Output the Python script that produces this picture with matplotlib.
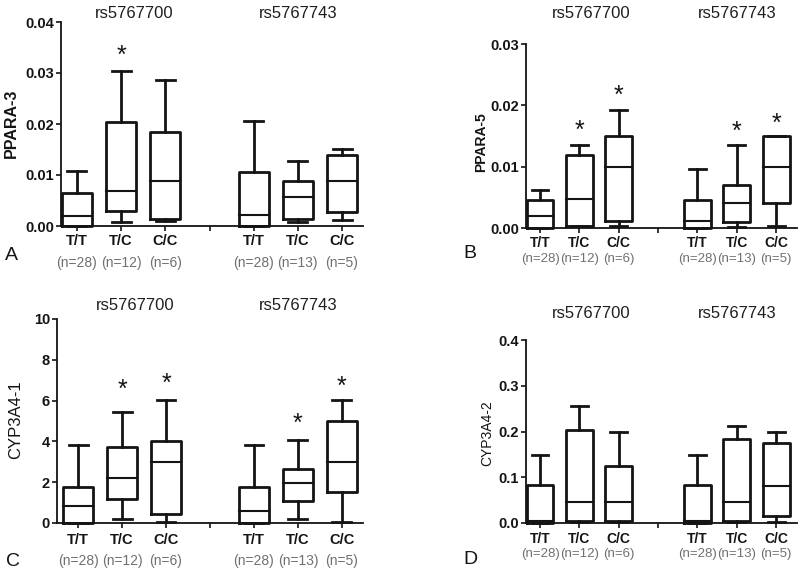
"""Box plots of expression by rs5767700 / rs5767743 genotype (panels A-D)."""

import matplotlib

matplotlib.use("Agg")
import matplotlib.pyplot as plt
import matplotlib.transforms as mtransforms
from matplotlib.ticker import FormatStrFormatter

plt.rcParams["font.family"] = ["Liberation Sans", "DejaVu Sans"]

GENOTYPES = ["T/T", "T/C", "C/C", "T/T", "T/C", "C/C"]
COUNTS = ["(n=28)", "(n=12)", "(n=6)", "(n=28)", "(n=13)", "(n=5)"]
SNPS = ["rs5767700", "rs5767743"]

# panel A: PPARA-3
A_low = [0.0, 0.00085, 0.0010, 0.0, 0.0008, 0.0011]
A_q1 = [0.0, 0.0029, 0.0013, 0.0, 0.0014, 0.0027]
A_med = [0.0019, 0.0069, 0.0088, 0.0021, 0.0057, 0.0088]
A_q3 = [0.0065, 0.0203, 0.0184, 0.0105, 0.0088, 0.0139]
A_high = [0.0107, 0.0304, 0.0286, 0.0206, 0.0127, 0.0151]
A_stars = [(2, 0.0341)]

# panel B: PPARA-5
B_low = [0.0, 0.0003, 0.0003, 0.0, 0.0002, 0.0003]
B_q1 = [0.0, 0.0004, 0.0011, 0.0, 0.0009, 0.0040]
B_med = [0.0019, 0.0047, 0.0100, 0.0011, 0.0041, 0.0100]
B_q3 = [0.0045, 0.0119, 0.0150, 0.0045, 0.0070, 0.0150]
B_high = [0.0062, 0.0135, 0.0193, 0.0097, 0.0135, 0.0150]
B_stars = [(2, 0.0165), (3, 0.0222), (6, 0.0163), (7, 0.0177)]

# panel C: CYP3A4-1
C_low = [0.0, 0.2, 0.03, 0.0, 0.2, 0.03]
C_q1 = [0.0, 1.2, 0.45, 0.0, 1.07, 1.5]
C_med = [0.85, 2.2, 3.0, 0.57, 1.97, 3.0]
C_q3 = [1.75, 3.72, 4.0, 1.75, 2.66, 5.0]
C_high = [3.8, 5.42, 6.02, 3.8, 4.07, 6.02]
C_stars = [(2, 6.72), (3, 7.02), (6, 5.08), (7, 6.89)]

# panel D: CYP3A4-2
D_low = [0.0, 0.003, 0.003, 0.0, 0.003, 0.003]
D_q1 = [0.0, 0.005, 0.004, 0.0, 0.005, 0.016]
D_med = [0.004, 0.045, 0.045, 0.004, 0.045, 0.08]
D_q3 = [0.082, 0.203, 0.125, 0.082, 0.184, 0.175]
D_high = [0.149, 0.255, 0.2, 0.149, 0.213, 0.2]
D_stars = []

POSITIONS = [1, 2, 3, 5, 6, 7]
GAP_TICK = 4
INK = "#141414"

W, H = 800, 572


def px_rect(left, top, right, bottom):
    """Pixel box -> figure fraction rect."""
    return [left / W, (H - bottom) / H, (right - left) / W, (bottom - top) / H]


def draw_panel(fig, rect, xlim, stats, stars, yticks, fmt, ylabel, ylabel_xy,
               ylabel_size, ylabel_weight, title_y, letter, letter_xy,
               gen_pad, n_off, small=False):
    ax = fig.add_axes(rect)
    low, q1, med, q3, high = stats
    boxes = [
        {"whislo": lo, "q1": a, "med": m, "q3": b, "whishi": hi, "fliers": []}
        for lo, a, m, b, hi in zip(low, q1, med, q3, high)
    ]
    art = ax.bxp(
        boxes,
        positions=POSITIONS,
        widths=0.68,
        capwidths=0.43,
        showfliers=False,
        boxprops=dict(color=INK, linewidth=2.0),
        whiskerprops=dict(color=INK, linewidth=2.0),
        capprops=dict(color=INK, linewidth=2.0),
        medianprops=dict(color=INK, linewidth=1.5),
        manage_ticks=False,
    )
    for group in art.values():
        for line in group:
            line.set_clip_on(False)
            line.set_solid_capstyle("projecting")

    ax.set_xlim(*xlim)
    ax.set_ylim(yticks[0], yticks[-1])
    ax.set_yticks(yticks)
    ax.yaxis.set_major_formatter(FormatStrFormatter(fmt))

    ticks = POSITIONS[:3] + [GAP_TICK] + POSITIONS[3:]
    labels = GENOTYPES[:3] + [""] + GENOTYPES[3:]
    ax.set_xticks(ticks)
    fs = 10 if small else 10.5
    nfs = 9.5 if small else 10
    ax.set_xticklabels(labels, fontsize=fs, fontweight="bold")
    ax.tick_params(axis="x", length=3.5, width=1.2, pad=gen_pad, colors=INK)
    ax.tick_params(axis="y", length=3.5, width=1.2, pad=1.5, colors=INK,
                   labelsize=10.5)
    for lab in ax.get_yticklabels():
        lab.set_fontweight("bold")

    for side in ("top", "right"):
        ax.spines[side].set_visible(False)
    for side in ("left", "bottom"):
        ax.spines[side].set_linewidth(1.3)
        ax.spines[side].set_color(INK)

    for x, n in zip(POSITIONS, COUNTS):
        ax.annotate(n, xy=(x, 0), xycoords=("data", "axes fraction"),
                    xytext=(0, -n_off), textcoords="offset points",
                    ha="center", va="center", fontsize=nfs, color="#707070")

    for x, y in stars:
        ax.annotate("*", xy=(x, y), xytext=(0, -3), textcoords="offset points",
                    ha="center", va="center", fontsize=18, color=INK)

    tr = mtransforms.blended_transform_factory(ax.transData, fig.transFigure)
    for x, snp in zip([2.3, 6.0], SNPS):
        ax.text(x, 1 - title_y / H, snp, transform=tr, ha="center",
                va="center", fontsize=12, color="#1e1e1e")

    fig.text(ylabel_xy[0] / W, 1 - ylabel_xy[1] / H, ylabel, rotation=90,
             ha="center", va="center", fontsize=ylabel_size,
             fontweight=ylabel_weight, color=INK)
    fig.text(letter_xy[0] / W, 1 - letter_xy[1] / H, letter, ha="center",
             va="center", fontsize=14, color=INK)
    return ax


fig = plt.figure(figsize=(W / 100, H / 100), dpi=100)

draw_panel(fig, px_rect(61, 22, 363, 226), (0.638, 7.475),
           (A_low, A_q1, A_med, A_q3, A_high), A_stars,
           [0.0, 0.01, 0.02, 0.03, 0.04], "%.2f", "PPARA-3", (11, 123),
           11.5, "bold", 13, "A", (11, 255), 2.5, 26.5)
draw_panel(fig, px_rect(526, 44, 797, 228), (0.644, 7.53),
           (B_low, B_q1, B_med, B_q3, B_high), B_stars,
           [0.0, 0.01, 0.02, 0.03], "%.2f", "PPARA-5", (481, 142),
           10, "bold", 13, "B", (470, 253), 2.5, 22, small=True)
draw_panel(fig, px_rect(57, 319, 363, 523), (0.52, 7.48),
           (C_low, C_q1, C_med, C_q3, C_high), C_stars,
           [0, 2, 4, 6, 8, 10], "%d", "CYP3A4-1", (16, 420),
           12, "normal", 306, "C", (13, 561), 3.5, 27)
draw_panel(fig, px_rect(526, 340, 797, 523), (0.644, 7.53),
           (D_low, D_q1, D_med, D_q3, D_high), D_stars,
           [0.0, 0.1, 0.2, 0.3, 0.4], "%.1f", "CYP3A4-2", (487, 433),
           10, "normal", 313, "D", (470, 559), 3, 22.5, small=True)

fig.savefig("out.png", dpi=100)
